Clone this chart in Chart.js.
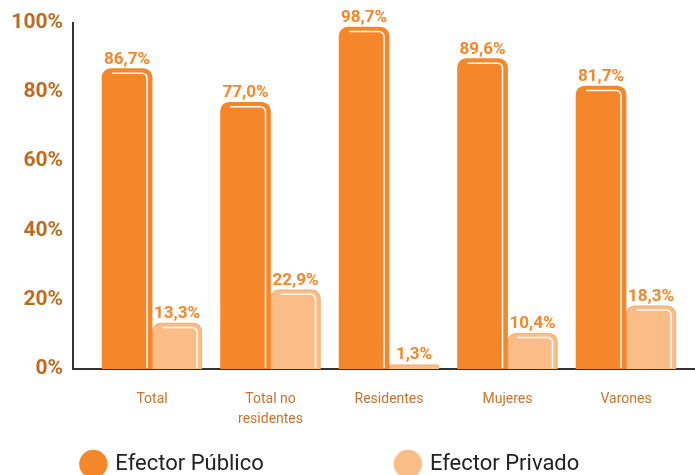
<!DOCTYPE html>
<html>
<head>
<meta charset="utf-8">
<script src="https://cdn.jsdelivr.net/npm/chart.js@4.4.1/dist/chart.umd.min.js"></script>
<style>
  html, body { margin: 0; padding: 0; background: #fff; }
  #wrap { width: 695px; height: 475px; }
</style>
</head>
<body>
<div id="wrap"><canvas id="chart"></canvas></div>
<script>
// datos
const categories = [['Total'], ['Total no', 'residentes'], ['Residentes'], ['Mujeres'], ['Varones']];
const seriesNames = ['Efector Público', 'Efector Privado'];
const publicValues = [86.7, 77.0, 98.7, 89.6, 81.7];
const privateValues = [13.3, 22.9, 1.3, 10.4, 18.3];
const yTicks = [0, 20, 40, 60, 80, 100];

const FONT = 'Roboto, "Noto Sans", sans-serif';
const pct = v => v.toFixed(1).replace('.', ',') + '%';

// etiquetas de valor sobre cada barra
const valueLabels = {
    id: 'valueLabels',
    afterDatasetsDraw(chart) {
        const ctx = chart.ctx;
        ctx.save();
        ctx.font = 'bold 17px ' + FONT;
        ctx.fillStyle = '#F5862A';
        ctx.textAlign = 'center';
        ctx.textBaseline = 'alphabetic';
        chart.data.datasets.forEach((ds, i) => {
            chart.getDatasetMeta(i).data.forEach((bar, j) => {
                ctx.fillText(pct(ds.data[j].y), bar.x, bar.y - 5);
            });
        });
        ctx.restore();
    }
};

// linea blanca interior de las barras
const barShine = {
    id: 'barShine',
    afterDatasetsDraw(chart) {
        const ctx = chart.ctx;
        ctx.save();
        ctx.strokeStyle = '#ffffff';
        ctx.lineWidth = 1.5;
        chart.data.datasets.forEach((ds, i) => {
            chart.getDatasetMeta(i).data.forEach(bar => {
                const h = bar.base - bar.y;
                if (h < 14) return;
                const l = bar.x - bar.width / 2, r = bar.x + bar.width / 2;
                const top = bar.y + 4.5, side = r - 5, rad = 5;
                ctx.beginPath();
                ctx.moveTo(l + 10, top);
                ctx.lineTo(side - rad, top);
                ctx.arcTo(side, top, side, top + rad, rad);
                ctx.lineTo(side, bar.base - 1);
                ctx.stroke();
            });
        });
        ctx.restore();
    }
};

const ctx = document.getElementById('chart').getContext('2d');
new Chart(ctx, {
    type: 'bar',
    data: {
        datasets: [{
            label: seriesNames[0],
            data: publicValues.map((v, i) => ({ x: i, y: v })),
            backgroundColor: '#F5862A',
            borderColor: '#F5862A',
            borderWidth: 0,
            borderRadius: { topLeft: 9, topRight: 9 },
            borderSkipped: 'bottom',
            barThickness: 50
        }, {
            label: seriesNames[1],
            data: privateValues.map((v, i) => ({ x: i, y: v })),
            backgroundColor: '#FBBD87',
            borderColor: '#F8B077',
            borderWidth: 1.5,
            borderRadius: { topLeft: 9, topRight: 9 },
            borderSkipped: 'bottom',
            barThickness: 50
        }]
    },
    options: {
        responsive: true,
        maintainAspectRatio: false,
        animation: false,
        layout: { padding: { top: 18, right: 0, left: 0, bottom: -10 } },
        scales: {
            x: {
                type: 'linear',
                offset: false,
                min: -0.667,
                max: 4.582,
                grid: { display: false, offset: false, drawTicks: false },
                border: { display: true, color: '#333333', width: 2 },
                afterBuildTicks: scale => { scale.ticks = categories.map((c, i) => ({ value: i })); },
                afterFit: scale => { scale.height = 74; },
                ticks: {
                    includeBounds: false,
                    autoSkip: false,
                    maxRotation: 0,
                    padding: 21,
                    color: '#C8742E',
                    font: { family: FONT, size: 14, lineHeight: 1.4 },
                    callback: v => categories[v] || ''
                }
            },
            y: {
                min: 0,
                max: 100,
                grid: { display: false, drawTicks: false },
                border: { display: true, color: '#333333', width: 2 },
                afterBuildTicks: scale => { scale.ticks = yTicks.map(v => ({ value: v })); },
                afterFit: scale => { scale.width = 73; },
                ticks: {
                    padding: 10,
                    color: '#BF6B1E',
                    font: { family: FONT, size: 21, weight: 'bold' },
                    callback: v => v + '%'
                }
            }
        },
        plugins: {
            legend: {
                display: true,
                position: 'bottom',
                labels: {
                    usePointStyle: true,
                    pointStyle: 'circle',
                    boxWidth: 28,
                    boxHeight: 20,
                    padding: 10,
                    color: '#222222',
                    font: { family: FONT, size: 22 },
                    generateLabels: chart => {
                        const items = Chart.defaults.plugins.legend.labels.generateLabels(chart);
                        items[0].text += '\u2003'.repeat(5) + '  ';
                        items[1].text += '\u2003' + '  ';
                        items.forEach(it => { it.lineWidth = 0; });
                        return items;
                    }
                }
            },
            tooltip: { enabled: false }
        }
    },
    plugins: [valueLabels, barShine]
});
</script>
</body>
</html>
